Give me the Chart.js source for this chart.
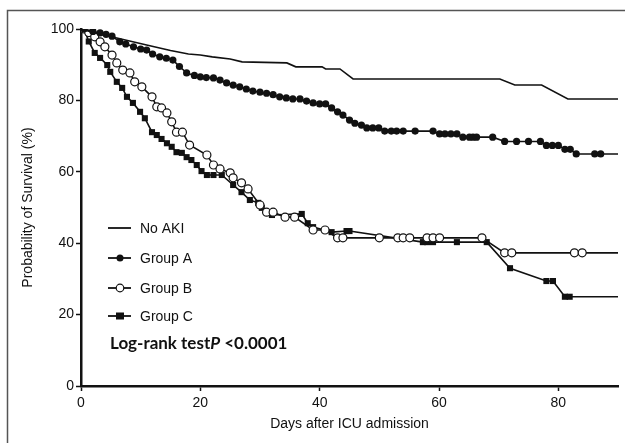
<!DOCTYPE html>
<html>
<head>
<meta charset="utf-8">
<script src="https://cdn.jsdelivr.net/npm/chart.js@4/dist/chart.umd.min.js"></script>
<style>
  html, body { margin: 0; padding: 0; background: #fff; }
  #wrap { width: 625px; height: 443px; position: relative; }
</style>
</head>
<body>
<div id="wrap"><canvas id="km"></canvas></div>
<script>
// survival curves (days, % surviving)
const noAkiDays = [0, 2, 6, 11, 15, 18, 20, 22, 25, 27, 34.5, 36, 40.4, 41, 43.4, 45.6, 70.2, 72.7, 77.2, 81.6, 90];
const noAkiSurv = [100, 99, 97.5, 95.5, 94, 93, 92.7, 92.2, 91.6, 90.8, 90.5, 89.4, 89.4, 88.8, 88.8, 86, 86, 84.3, 84.3, 80.4, 80.4];

const groupADays = [0.5, 2, 3.2, 4.2, 5.2, 6.5, 7.5, 8.8, 10, 11, 12, 13.2, 14.3, 15.4, 16.5, 17.7, 19, 20, 21, 22.2, 23.3, 24.4, 25.5, 26.6, 27.7, 28.8, 30, 31.1, 32.2, 33.3, 34.4, 35.5, 36.7, 37.8, 38.9, 40, 41, 42, 43, 43.9, 45, 45.9, 47, 47.9, 48.9, 49.9, 50.9, 52, 52.9, 54, 56, 59, 60.1, 61, 62, 63, 64, 65.1, 65.7, 66.3, 69, 71, 73, 75, 77, 78, 79, 80, 81.1, 82, 83, 86.1, 87.1, 90];
const groupASurv = [100, 99.3, 98.9, 98.5, 98, 96.4, 95.8, 95, 94.4, 94.1, 93, 92.2, 91.8, 91.3, 89.5, 87.7, 87, 86.6, 86.4, 86.3, 85.7, 84.9, 84.3, 83.8, 83.2, 82.6, 82.3, 82, 81.6, 81, 80.7, 80.4, 80.4, 79.8, 79.3, 79, 79, 77.9, 76.8, 75.9, 74.5, 73.6, 73.1, 72.3, 72.3, 72.3, 71.4, 71.4, 71.4, 71.4, 71.4, 71.4, 70.6, 70.6, 70.6, 70.6, 69.7, 69.7, 69.7, 69.7, 69.7, 68.5, 68.5, 68.5, 68.5, 67.4, 67.4, 67.4, 66.3, 66.3, 65, 65, 65, 65];

const groupBDays = [0.5, 1.3, 2.3, 3.2, 4, 5.2, 6, 7, 8.2, 9, 10.2, 11.9, 12.7, 13.5, 14.4, 15.2, 16, 17, 18.2, 21.1, 22.2, 23.3, 25, 25.5, 26.9, 28, 30, 31.1, 32.2, 34.2, 35.8, 38.9, 40.9, 43, 43.9, 50, 53.1, 54, 55.1, 58, 59, 60.1, 67.2, 71, 72.2, 82.7, 84, 90];
const groupBSurv = [100, 99, 97.8, 96.4, 95, 92.7, 90.5, 88.5, 87.7, 85.2, 83.8, 81, 78.2, 77.9, 76.5, 74, 71.1, 71.1, 67.5, 64.7, 61.9, 60.8, 59.7, 58.3, 56.9, 55.2, 50.7, 48.7, 48.7, 47.3, 47.3, 43.7, 43.7, 41.5, 41.5, 41.5, 41.5, 41.5, 41.5, 41.5, 41.5, 41.5, 41.5, 37.3, 37.3, 37.3, 37.3, 37.3];

const groupCDays = [0.5, 1.3, 2.3, 3.2, 4.4, 4.9, 6, 6.9, 7.7, 8.7, 9.9, 10.7, 11.9, 12.7, 13.5, 14.4, 15.2, 16, 16.9, 17.7, 18.5, 19.4, 20.2, 21.1, 22.2, 23.6, 25.5, 26.9, 28.3, 29.7, 30.3, 32, 37, 38, 38.9, 42, 44.5, 45, 57.3, 58, 59, 63, 68, 71.9, 78, 79.1, 81.1, 81.9, 90];
const groupCSurv = [100, 96.5, 93.3, 91.9, 89.9, 88, 85.2, 83.5, 81, 79.3, 76.8, 75, 71.1, 70.3, 69.2, 68, 67, 65.5, 65.3, 64.1, 63.3, 61.9, 60.2, 59.1, 59.1, 59.1, 56.3, 54.3, 52.1, 51.3, 49.9, 47.9, 48.2, 45.6, 44.5, 43.1, 43.4, 43.4, 40.3, 40.3, 40.3, 40.3, 40.3, 33, 29.4, 29.4, 25, 25, 25];

const xTicks = [0, 20, 40, 60, 80];
const yTicks = [0, 20, 40, 60, 80, 100];
const seriesNames = ['No AKI', 'Group A', 'Group B', 'Group C'];

const toPts = (xs, ys) => xs.map((x, i) => ({ x: x, y: ys[i] }));
// censor marks everywhere except the trailing end of each curve
const markR = (r) => (ctx) => ctx.dataIndex === ctx.dataset.data.length - 1 ? 0 : r;

const INK = '#111';
const sansFont = 'Arial, "Liberation Sans", sans-serif';
const boldFont = 'Lato, "Open Sans", sans-serif';

const frameAndLegend = {
  id: 'frameAndLegend',
  afterDraw(chart) {
    const c = chart.ctx;
    c.save();
    // outer box of the figure
    c.strokeStyle = '#555';
    c.lineWidth = 1.5;
    c.beginPath();
    c.moveTo(7.5, 443);
    c.lineTo(7.5, 10.5);
    c.lineTo(625, 10.5);
    c.stroke();

    // legend inside the plot
    const rows = [228, 258, 288, 316];
    chart.data.datasets.forEach((ds, i) => {
      const y = rows[i];
      c.strokeStyle = INK;
      c.lineWidth = 1.8;
      c.beginPath();
      c.moveTo(108, y);
      c.lineTo(131, y);
      c.stroke();
      if (i === 1) {
        c.fillStyle = INK;
        c.beginPath(); c.arc(120, y, 3.5, 0, Math.PI * 2); c.fill();
      } else if (i === 2) {
        c.fillStyle = '#fff';
        c.lineWidth = 1.2;
        c.beginPath(); c.arc(120, y, 3.8, 0, Math.PI * 2); c.fill(); c.stroke();
      } else if (i === 3) {
        c.fillStyle = INK;
        c.fillRect(116, y - 3.5, 8, 7);
      }
      c.fillStyle = INK;
      c.font = '14px ' + sansFont;
      c.textBaseline = 'middle';
      c.fillText(ds.label, 140, y + 1);
    });

    // log-rank annotation
    let x = 110;
    const y = 344;
    c.textBaseline = 'middle';
    c.font = 'bold 17px ' + boldFont;
    c.fillText('Log-rank test', x, y);
    x += c.measureText('Log-rank test').width;
    c.font = 'italic bold 17px ' + boldFont;
    c.fillText('P', x, y);
    x += c.measureText('P').width;
    c.font = 'bold 17px ' + boldFont;
    c.fillText(' <0.0001', x, y);
    c.restore();
  }
};

new Chart(document.getElementById('km'), {
  type: 'scatter',
  data: {
    datasets: [
      {
        label: seriesNames[0],
        data: toPts(noAkiDays, noAkiSurv),
        showLine: true,
        borderColor: INK,
        borderWidth: 1.6,
        pointRadius: 0,
        tension: 0
      },
      {
        label: seriesNames[1],
        data: toPts(groupADays, groupASurv),
        showLine: true,
        borderColor: INK,
        borderWidth: 1.6,
        backgroundColor: INK,
        pointStyle: 'circle',
        pointRadius: markR(3.6),
        pointBorderWidth: 0,
        tension: 0
      },
      {
        label: seriesNames[2],
        data: toPts(groupBDays, groupBSurv),
        showLine: true,
        borderColor: INK,
        borderWidth: 1.6,
        pointBackgroundColor: '#fff',
        pointBorderColor: INK,
        pointBorderWidth: 1.2,
        pointStyle: 'circle',
        pointRadius: markR(4),
        tension: 0
      },
      {
        label: seriesNames[3],
        data: toPts(groupCDays, groupCSurv),
        showLine: true,
        borderColor: INK,
        borderWidth: 1.6,
        backgroundColor: INK,
        pointStyle: 'rect',
        pointRadius: markR(4.3),
        pointBorderWidth: 0,
        tension: 0
      }
    ]
  },
  options: {
    responsive: true,
    maintainAspectRatio: false,
    animation: false,
    layout: { padding: { top: 29, right: 7, left: 20, bottom: 0 } },
    plugins: {
      legend: { display: false },
      tooltip: { enabled: false }
    },
    scales: {
      x: {
        type: 'linear',
        min: 0,
        max: 90,
        afterBuildTicks: (s) => { s.ticks = xTicks.map(v => ({ value: v })); },
        afterFit: (s) => { s.height = 57; },
        border: { color: INK, width: 2.5 },
        grid: { drawOnChartArea: false, drawTicks: true, tickLength: 5, color: INK, tickWidth: 1.5 },
        ticks: { color: INK, font: { family: sansFont, size: 14 }, padding: 4, maxRotation: 0 },
        title: {
          display: true,
          text: 'Days after ICU admission',
          color: INK,
          font: { family: sansFont, size: 14 },
          padding: { top: 0, bottom: 10 }
        }
      },
      y: {
        min: 0,
        max: 100,
        afterBuildTicks: (s) => { s.ticks = yTicks.map(v => ({ value: v })); },
        afterFit: (s) => { s.width = 61; },
        border: { color: INK, width: 2.5 },
        grid: { drawOnChartArea: false, drawTicks: true, tickLength: 5, color: INK, tickWidth: 1.5 },
        ticks: { color: INK, font: { family: sansFont, size: 14 }, padding: 2 },
        title: {
          display: true,
          text: 'Probability of Survival (%)',
          color: INK,
          font: { family: sansFont, size: 14 },
          padding: { top: 0, bottom: 10 }
        }
      }
    }
  },
  plugins: [frameAndLegend]
});
</script>
</body>
</html>
